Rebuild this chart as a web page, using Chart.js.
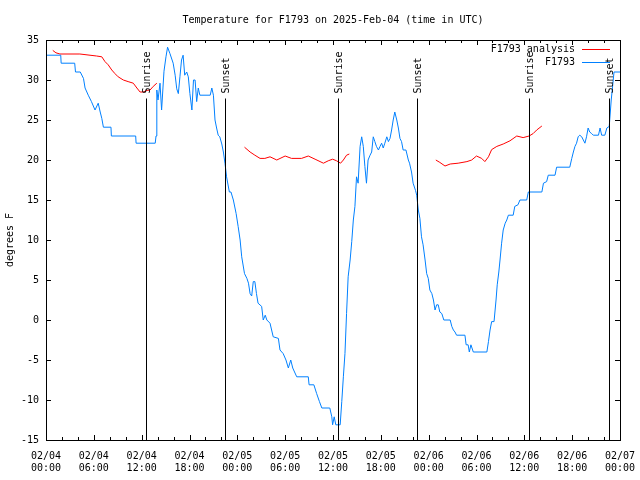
<!DOCTYPE html>
<html>
<head>
<meta charset="utf-8">
<script src="https://cdn.jsdelivr.net/npm/chart.js@4/dist/chart.umd.min.js"></script>
<style>
  body { margin: 0; background: #fff; }
  #wrap { width: 640px; height: 480px; }
</style>
</head>
<body>
<div id="wrap"><canvas id="tempChart" width="640" height="480"></canvas></div>
<script>
/** hours since 02/04 00:00 UTC */
var blueHours = [0.1, 1.85, 1.9, 3.6, 3.7, 4.3, 4.7, 4.9, 5.3, 5.7, 6.15, 6.55, 6.8, 7.0, 7.2, 8.15, 8.2, 11.25, 11.3, 13.7,
    13.8, 13.9, 14.05, 14.3, 14.5, 14.8, 15.05, 15.25, 15.55, 15.95, 16.2, 16.4, 16.6, 16.8, 17.0, 17.2, 17.4, 17.65, 17.85, 18.05,
    18.3, 18.5, 18.7, 18.9, 19.1, 19.3, 20.6, 20.8, 21.0, 21.2, 21.4, 21.6, 21.8, 22.05, 22.25, 22.45, 22.65, 23.0, 23.2, 23.5,
    23.85, 24.1, 24.35, 24.55, 24.9, 25.2, 25.4, 25.6, 25.8, 26.0, 26.2, 26.4, 26.6, 27.05, 27.25, 27.5, 27.7, 28.1, 28.5, 29.15,
    29.35, 29.75, 30.1, 30.4, 30.7, 30.95, 31.45, 32.9, 33.0, 33.6, 33.95, 34.3, 34.6, 35.6, 35.85, 35.95, 36.15, 36.35, 36.9, 37.1,
    37.3, 37.5, 37.7, 37.9, 38.15, 38.35, 38.55, 38.75, 38.95, 39.15, 39.4, 39.6, 39.8, 40.0, 40.2, 40.4, 40.65, 40.85, 41.05, 41.25,
    41.45, 41.7, 41.9, 42.1, 42.3, 42.5, 42.75, 42.95, 43.15, 43.35, 43.55, 43.75, 44.0, 44.2, 44.4, 44.6, 44.8, 45.15, 45.45, 45.6,
    45.85, 46.05, 46.35, 46.5, 46.7, 46.9, 47.1, 47.3, 47.55, 47.75, 47.95, 48.15, 48.4, 48.6, 48.8, 49.0, 49.2, 49.4, 49.65, 49.9,
    50.7, 50.9, 51.1, 51.3, 51.5, 52.55, 52.7, 52.95, 53.1, 53.3, 53.6, 55.3, 55.5, 55.7, 55.9, 56.2, 56.45, 56.6, 56.8, 56.95,
    57.15, 57.35, 57.6, 57.8, 58.0, 58.6, 58.8, 59.2, 59.45, 60.3, 60.5, 62.2, 62.4, 62.8, 63.0, 63.85, 64.05, 65.7, 65.95, 66.15,
    66.35, 66.55, 66.75, 66.95, 67.2, 67.4, 67.6, 67.8, 68.0, 68.2, 68.45, 68.65, 69.3, 69.5, 69.7, 70.1, 70.35, 70.65, 70.9, 71.15,
    71.25, 72.0];
var blueTemps = [33.1, 33.1, 32.1, 32.1, 31.0, 31.0, 30.2, 29.0, 28.1, 27.3, 26.25, 27.1, 26.0, 25.2, 24.1, 24.1, 23.0, 23.0, 22.1, 22.1,
    23.0, 28.75, 27.5, 29.6, 26.25, 31.1, 32.9, 34.1, 33.3, 32.1, 30.6, 28.9, 28.3, 30.4, 32.5, 33.1, 30.6, 31.0, 30.4, 28.3,
    26.25, 30.0, 30.0, 27.3, 29.0, 28.1, 28.1, 29.0, 28.1, 25.0, 24.0, 23.1, 22.9, 22.0, 21.0, 19.6, 17.9, 16.0, 16.0, 15.0,
    13.3, 11.7, 10.0, 7.9, 5.8, 5.2, 4.6, 3.3, 3.0, 4.8, 4.8, 3.3, 2.1, 1.7, 0.0, 0.6, 0.0, -0.4, -2.1, -2.3,
    -3.75, -4.2, -5.0, -6.0, -5.0, -6.0, -7.1, -7.1, -8.1, -8.1, -9.2, -10.2, -11.0, -11.0, -12.1, -13.1, -12.1, -13.1, -13.1, -10.2,
    -7.1, -4.2, 0.8, 5.4, 7.5, 9.8, 12.5, 14.2, 17.9, 17.1, 21.7, 22.9, 21.7, 19.2, 17.1, 20.0, 20.6, 21.0, 22.9, 22.3,
    21.7, 21.25, 21.7, 22.1, 21.5, 22.1, 22.9, 22.3, 22.7, 23.75, 25.0, 26.0, 25.0, 24.0, 22.7, 22.3, 21.25, 21.25, 20.0, 19.6,
    18.5, 17.1, 16.2, 15.6, 13.75, 12.7, 10.4, 9.4, 7.5, 5.8, 5.2, 3.75, 3.3, 2.5, 1.25, 1.9, 1.9, 1.0, 0.8, 0.0,
    0.0, -0.8, -1.25, -1.5, -1.9, -1.9, -3.1, -3.1, -4.0, -3.1, -4.0, -4.0, -2.7, -1.25, -0.2, -0.2, 2.5, 4.4, 6.0, 7.5,
    9.6, 11.25, 12.1, 12.5, 13.1, 13.1, 14.2, 14.4, 15.0, 15.0, 16.0, 16.0, 17.1, 17.3, 18.1, 18.1, 19.1, 19.1, 20.2, 21.0,
    21.7, 22.1, 22.9, 23.1, 22.9, 22.5, 22.1, 22.9, 24.0, 23.5, 23.3, 23.1, 23.1, 24.0, 23.1, 23.1, 24.0, 24.2, 27.5, 30.0,
    31.0, 31.0];

/** analysis series, null = gap */
var redHours = [0.85, 1.25, 1.75, 4.25, 6.35, 7.0, 7.4, 7.8, 8.25, 8.65, 9.05, 9.7, 10.3, 10.95, 11.4, 11.8, 12.2, 12.65, 13.05, 13.45, 13.9,
    19.0,
    24.9, 25.6, 26.2, 26.85, 27.45, 28.1, 28.95, 30.0, 30.8, 32.05, 32.9, 33.75, 34.8, 35.4, 35.95, 36.45, 36.95, 37.3, 37.7, 38.05,
    43.0,
    48.9, 49.4, 50.05, 50.7, 51.7, 52.8, 53.4, 54.0, 54.65, 55.05, 55.5, 55.9, 56.55, 57.35, 58.2, 59.05, 59.85, 60.6, 61.1, 61.55, 62.2];
var redTemps = [33.7, 33.4, 33.25, 33.25, 33.0, 32.9, 32.3, 31.9, 31.25, 30.8, 30.4, 30.0, 29.8, 29.6, 29.0, 28.5, 28.5, 28.7, 28.75, 29.2, 29.6,
    null,
    21.6, 21.0, 20.6, 20.2, 20.2, 20.4, 20.0, 20.5, 20.2, 20.2, 20.5, 20.1, 19.6, 19.9, 20.1, 19.9, 19.6, 20.0, 20.6, 20.75,
    null,
    20.0, 19.7, 19.25, 19.5, 19.6, 19.8, 20.0, 20.5, 20.2, 19.8, 20.4, 21.3, 21.7, 22.0, 22.4, 23.0, 22.8, 23.0, 23.3, 23.75, 24.25];

var sunriseHours = [12.55, 36.6, 60.6];
var sunsetHours = [22.45, 46.55, 70.6];

var FONT = '"DejaVu Sans Mono", "Liberation Mono", monospace';

function toPoints(xs, ys){
    var pts = [];
    for(var i = 0; i < xs.length; i++){
        pts.push({x: xs[i], y: ys[i]});
    }
    return pts;
}

function timeLabel(v){
    var day = 4 + Math.floor(v / 24);
    var hr = v % 24;
    return ['02/0' + day, (hr < 10 ? '0' : '') + hr + ':00'];
}

// box, inward ticks, sun lines, title and legend (gnuplot look)
var decorPlugin = {
    id: 'decor',
    afterDatasetsDraw: function(chart){
        var ctx = chart.ctx;
        var a = chart.chartArea;
        var xs = chart.scales.x, ys = chart.scales.y;
        ctx.save();
        ctx.strokeStyle = '#000';
        ctx.lineWidth = 1;

        // sunrise / sunset
        var topY = Math.round(ys.getPixelForValue(27.75)) + 0.5;
        ctx.font = '10px ' + FONT;
        ctx.fillStyle = '#000';
        function sunLine(h, txt){
            var px = Math.round(xs.getPixelForValue(h)) + 0.5;
            ctx.beginPath();
            ctx.moveTo(px, a.bottom);
            ctx.lineTo(px, topY);
            ctx.stroke();
            ctx.save();
            ctx.translate(px + 1, topY - 5);
            ctx.rotate(-Math.PI / 2);
            ctx.textAlign = 'left';
            ctx.textBaseline = 'middle';
            ctx.fillText(txt, 0, 0);
            ctx.restore();
        }
        sunriseHours.forEach(function(h){ sunLine(h, 'Sunrise'); });
        sunsetHours.forEach(function(h){ sunLine(h, 'Sunset'); });

        // frame
        ctx.strokeRect(a.left + 0.5, a.top + 0.5, a.right - a.left, a.bottom - a.top);

        // x ticks every 2h, longer every 6h
        ctx.beginPath();
        for(var h = 2; h < 72; h += 2){
            var px = Math.round(xs.getPixelForValue(h)) + 0.5;
            var len = (h % 6 === 0) ? 5 : 3;
            ctx.moveTo(px, a.bottom); ctx.lineTo(px, a.bottom - len);
            ctx.moveTo(px, a.top); ctx.lineTo(px, a.top + len);
        }
        // y ticks
        for(var v = -10; v < 35; v += 5){
            var py = Math.round(ys.getPixelForValue(v)) + 0.5;
            ctx.moveTo(a.left, py); ctx.lineTo(a.left + 5, py);
            ctx.moveTo(a.right, py); ctx.lineTo(a.right - 5, py);
        }
        ctx.stroke();

        // title
        ctx.font = '10px ' + FONT;
        ctx.textAlign = 'center';
        ctx.textBaseline = 'middle';
        ctx.fillText('Temperature for F1793 on 2025-Feb-04 (time in UTC)', (a.left + a.right) / 2, 20);

        // legend
        var items = [
            {label: 'F1793 analysis', color: '#ff0000', y: 49},
            {label: 'F1793', color: '#0080ff', y: 62}
        ];
        ctx.textAlign = 'right';
        items.forEach(function(it){
            ctx.fillStyle = '#000';
            ctx.fillText(it.label, 575, it.y);
            ctx.strokeStyle = it.color;
            ctx.beginPath();
            ctx.moveTo(582, it.y + 0.5);
            ctx.lineTo(610, it.y + 0.5);
            ctx.stroke();
        });
        ctx.restore();
    }
};

var ctx = document.getElementById('tempChart').getContext('2d');
new Chart(ctx, {
    type: 'line',
    data: {
        datasets: [
            {
                label: 'F1793',
                data: toPoints(blueHours, blueTemps),
                borderColor: '#0080ff',
                borderWidth: 1,
                pointRadius: 0,
                tension: 0
            },
            {
                label: 'F1793 analysis',
                data: toPoints(redHours, redTemps),
                borderColor: '#ff0000',
                borderWidth: 1,
                pointRadius: 0,
                spanGaps: false,
                tension: 0
            }
        ]
    },
    options: {
        responsive: false,
        animation: false,
        layout: { padding: { top: 40, right: 20, left: 0, bottom: 0 } },
        plugins: {
            legend: { display: false },
            tooltip: { enabled: false }
        },
        scales: {
            x: {
                type: 'linear',
                min: 0,
                max: 72,
                grid: { display: false, drawTicks: false },
                border: { display: false },
                ticks: {
                    stepSize: 6,
                    maxRotation: 0,
                    autoSkip: false,
                    padding: 10,
                    color: '#000',
                    font: { family: FONT, size: 10, lineHeight: 1.2 },
                    callback: function(v){ return timeLabel(v); }
                },
                afterFit: function(s){
                    s.height = 40;
                    s.paddingLeft = 0;
                    s.paddingRight = 0;
                }
            },
            y: {
                min: -15,
                max: 35,
                grid: { display: false, drawTicks: false },
                border: { display: false },
                ticks: {
                    stepSize: 5,
                    padding: 7,
                    color: '#000',
                    font: { family: FONT, size: 10 }
                },
                title: {
                    display: true,
                    text: 'degrees F',
                    color: '#000',
                    padding: { top: 4, bottom: 0 },
                    font: { family: FONT, size: 10 }
                },
                afterFit: function(s){ s.width = 46; }
            }
        }
    },
    plugins: [decorPlugin]
});
</script>
</body>
</html>
